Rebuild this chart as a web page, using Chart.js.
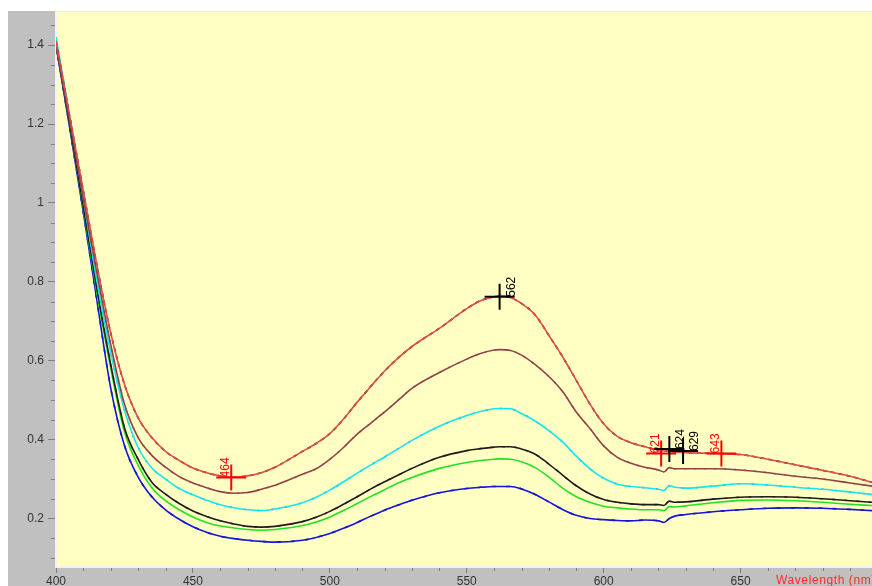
<!DOCTYPE html>
<html>
<head>
<meta charset="utf-8">
<script src="https://cdn.jsdelivr.net/npm/chart.js@4.4.1/dist/chart.umd.min.js"></script>
<style>
  html, body { margin: 0; padding: 0; background: #ffffff; overflow: hidden; }
  #wrap { width: 872px; height: 586px; position: relative; }
</style>
</head>
<body>
<div id="wrap"><canvas id="spectra" width="872" height="586"></canvas></div>
<script>
// Sampling wavelengths (nm) shared by all spectra
const wavelengths = [400,405,410,415,420,425,430,435,440,445,
                     450,455,460,465,470,475,480,490,495,500,
                     505,510,515,520,525,530,540,550,555,560,
                     562,566,570,575,580,585,590,595,600,605,
                     610,615,620,622,624,626,630,640,650,660,
                     670,680,690,698];

// Absorbance of each spectrum, highest to lowest
const absScan1 = [1.41,1.22,1.03,0.84,0.67,0.54,0.455,0.405,0.37,0.347,
                  0.328,0.316,0.308,0.305,0.308,0.316,0.33,0.37,0.39,0.415,
                  0.452,0.495,0.535,0.574,0.607,0.636,0.682,0.732,0.752,0.762,
                  0.765,0.76,0.745,0.716,0.664,0.61,0.55,0.49,0.44,0.408,
                  0.392,0.382,0.373,0.371,0.37,0.369,0.367,0.365,0.362,0.35,
                  0.336,0.322,0.307,0.292];
const absScan2 = [1.40,1.21,1.01,0.82,0.64,0.49,0.405,0.36,0.33,0.306,
                  0.29,0.278,0.268,0.264,0.266,0.274,0.284,0.312,0.326,0.35,
                  0.38,0.414,0.442,0.47,0.5,0.53,0.57,0.604,0.618,0.627,
                  0.628,0.626,0.614,0.59,0.56,0.522,0.47,0.428,0.384,0.355,
                  0.34,0.33,0.323,0.318,0.329,0.326,0.326,0.326,0.323,0.316,
                  0.307,0.3,0.29,0.282];
const absScan3 = [1.42,1.22,1.01,0.80,0.62,0.475,0.38,0.328,0.30,0.276,
                  0.26,0.246,0.235,0.227,0.222,0.22,0.224,0.24,0.254,0.272,
                  0.293,0.315,0.336,0.356,0.377,0.398,0.434,0.461,0.471,0.478,
                  0.479,0.478,0.466,0.447,0.423,0.394,0.358,0.326,0.302,0.287,
                  0.281,0.278,0.274,0.271,0.283,0.279,0.277,0.282,0.288,0.285,
                  0.279,0.274,0.267,0.261];
const absScan4 = [1.40,1.20,0.99,0.78,0.59,0.43,0.35,0.292,0.262,0.238,
                  0.219,0.205,0.194,0.186,0.18,0.178,0.18,0.192,0.203,0.218,
                  0.236,0.255,0.275,0.293,0.31,0.327,0.355,0.372,0.377,0.381,
                  0.382,0.382,0.376,0.363,0.338,0.31,0.283,0.262,0.248,0.241,
                  0.237,0.235,0.235,0.233,0.244,0.241,0.242,0.249,0.254,0.255,
                  0.254,0.25,0.245,0.241];
const absScan5 = [1.40,1.20,0.985,0.77,0.58,0.42,0.335,0.278,0.245,0.222,
                  0.204,0.19,0.181,0.176,0.172,0.17,0.172,0.182,0.191,0.204,
                  0.22,0.238,0.256,0.273,0.29,0.304,0.327,0.342,0.347,0.35,
                  0.351,0.35,0.344,0.329,0.305,0.277,0.255,0.241,0.231,0.227,
                  0.224,0.222,0.222,0.22,0.23,0.229,0.232,0.24,0.246,0.247,
                  0.245,0.241,0.236,0.233];
const absScan6 = [1.40,1.19,0.975,0.75,0.53,0.385,0.305,0.255,0.222,0.198,
                  0.179,0.165,0.155,0.149,0.145,0.142,0.14,0.145,0.152,0.162,
                  0.175,0.19,0.206,0.221,0.234,0.246,0.265,0.276,0.279,0.281,
                  0.281,0.281,0.275,0.261,0.242,0.223,0.208,0.2,0.197,0.195,
                  0.194,0.196,0.194,0.19,0.2,0.206,0.21,0.217,0.222,0.226,
                  0.227,0.226,0.223,0.22];

// Axis ticks
const xMajorTicks = [400,450,500,550,600,650];
const yMajorTicks = [0.2,0.4,0.6,0.8,1,1.2,1.4];

// Peak / shoulder picks: wavelength and absorbance where each cross sits
const pickNm  = [464, 562, 621, 624, 629, 643];
const pickAbs = [0.304, 0.762, 0.365, 0.376, 0.371, 0.365];
const pickKind = ['valley', 'peak', 'valley', 'peak', 'peak', 'valley'];

const FONT = '"Liberation Sans", Arial, sans-serif';

// Each spectrum is drawn as a solid line with a dotted overlay for the
// two-tone trace look.
const traceStyles = [
  { base: '#e24c48', over: '#1a1a1a', dash: [4, 4] },
  { base: '#8e4444', over: '#e040e0', dash: [2, 8] },
  { base: '#12e6f0', over: '#5a50e0', dash: [2, 12] },
  { base: '#1c1c1c', over: '#8b4a4a', dash: [3, 9] },
  { base: '#22e022', over: null,      dash: null },
  { base: '#1414e0', over: '#20204a', dash: [4, 10] }
];
const scans = [absScan1, absScan2, absScan3, absScan4, absScan5, absScan6];

const datasets = [];
scans.forEach((vals, i) => {
  const pts = wavelengths.map((w, k) => ({ x: w, y: vals[k] }));
  const st = traceStyles[i];
  datasets.push({
    data: pts, borderColor: st.base, borderWidth: 1.6,
    pointRadius: 0, fill: false, cubicInterpolationMode: 'monotone'
  });
  if (st.over) {
    datasets.push({
      data: pts, borderColor: st.over, borderWidth: 1.6, borderDash: st.dash,
      pointRadius: 0, fill: false, cubicInterpolationMode: 'monotone'
    });
  }
});

// Gray frame, white margin and pale yellow plotting area
const backdrop = {
  id: 'backdrop',
  beforeDraw(chart) {
    const { ctx, chartArea: a, width, height } = chart;
    ctx.save();
    ctx.fillStyle = '#ffffff';
    ctx.fillRect(0, 0, width, height);
    ctx.fillStyle = '#c0c0c0';
    ctx.fillRect(8, 11, width - 8, height - 11);
    ctx.fillStyle = '#ffffc4';
    ctx.fillRect(a.left, a.top, a.right - a.left, a.bottom - a.top);
    ctx.restore();
  }
};

// Minor tick marks between the labelled ticks
const minorTicks = {
  id: 'minorTicks',
  afterDraw(chart) {
    const { ctx, chartArea: a, scales } = chart;
    ctx.save();
    ctx.strokeStyle = '#7f7f7f';
    ctx.lineWidth = 1;
    ctx.beginPath();
    for (let v = 0.1; v <= 1.451; v += 0.05) {
      const r = Math.round(v * 100) / 100;
      if (yMajorTicks.some(t => Math.abs(t - r) < 1e-6)) continue;
      const y = Math.round(scales.y.getPixelForValue(r)) + 0.5;
      ctx.moveTo(a.left - 5, y); ctx.lineTo(a.left - 1, y);
    }
    for (let w = 410; w <= 690; w += 10) {
      if (xMajorTicks.includes(w)) continue;
      const x = Math.round(scales.x.getPixelForValue(w)) + 0.5;
      ctx.moveTo(x, a.bottom + 1); ctx.lineTo(x, a.bottom + 4);
    }
    ctx.stroke();

    // axis name, running off the right edge
    ctx.fillStyle = '#ff2a2a';
    ctx.font = '12px ' + FONT;
    ctx.textAlign = 'left';
    ctx.textBaseline = 'middle';
    if ('letterSpacing' in ctx) ctx.letterSpacing = '0.6px';
    ctx.fillText('Wavelength (nm)', 776, 581);
    ctx.restore();
  }
};

// Crosshair markers with vertical wavelength labels
const picks = {
  id: 'picks',
  afterDatasetsDraw(chart) {
    const { ctx, scales } = chart;
    ctx.save();
    pickNm.forEach((nm, i) => {
      const x = scales.x.getPixelForValue(nm);
      const y = scales.y.getPixelForValue(pickAbs[i]);
      const color = pickKind[i] === 'peak' ? '#000000' : '#ff0000';
      ctx.strokeStyle = color;
      ctx.lineWidth = 2;
      ctx.beginPath();
      ctx.moveTo(x - 15, y); ctx.lineTo(x + 15, y);
      ctx.moveTo(x, y - 13); ctx.lineTo(x, y + 13);
      ctx.stroke();

      ctx.save();
      ctx.fillStyle = color;
      ctx.font = '12px ' + FONT;
      ctx.textAlign = 'left';
      ctx.textBaseline = 'alphabetic';
      const bx = pickKind[i] === 'peak' ? x + 15 : x - 2;
      ctx.translate(bx, y);
      ctx.rotate(-Math.PI / 2);
      ctx.fillText(String(nm), 0, 0);
      ctx.restore();
    });
    ctx.restore();
  }
};

new Chart(document.getElementById('spectra'), {
  type: 'line',
  data: { datasets },
  options: {
    responsive: false,
    animation: false,
    devicePixelRatio: 1,
    layout: { padding: { left: 8, top: 11, right: 0, bottom: 0 } },
    plugins: { legend: { display: false }, tooltip: { enabled: false }, title: { display: false } },
    scales: {
      x: {
        type: 'linear', min: 400, max: 698,
        afterBuildTicks: s => { s.ticks = xMajorTicks.map(v => ({ value: v })); },
        afterFit: s => { s.height = 19; },
        ticks: {
          autoSkip: false, maxRotation: 0, padding: 1,
          color: '#333333', font: { family: FONT, size: 12 },
          callback: v => String(v)
        },
        grid: { drawOnChartArea: false, drawTicks: true, tickLength: 6, color: '#7f7f7f' },
        border: { display: true, color: '#f2f2f2', width: 2 }
      },
      y: {
        type: 'linear', min: 0.077, max: 1.486,
        afterBuildTicks: s => { s.ticks = yMajorTicks.map(v => ({ value: v })); },
        afterFit: s => { s.width = 48; },
        ticks: {
          autoSkip: false, padding: 4,
          color: '#333333', font: { family: FONT, size: 12 },
          callback: v => String(Math.round(v * 10) / 10)
        },
        grid: { drawOnChartArea: false, drawTicks: true, tickLength: 8, color: '#7f7f7f' },
        border: { display: true, color: '#f2f2f2', width: 2 }
      }
    }
  },
  plugins: [backdrop, minorTicks, picks]
});
</script>
</body>
</html>
